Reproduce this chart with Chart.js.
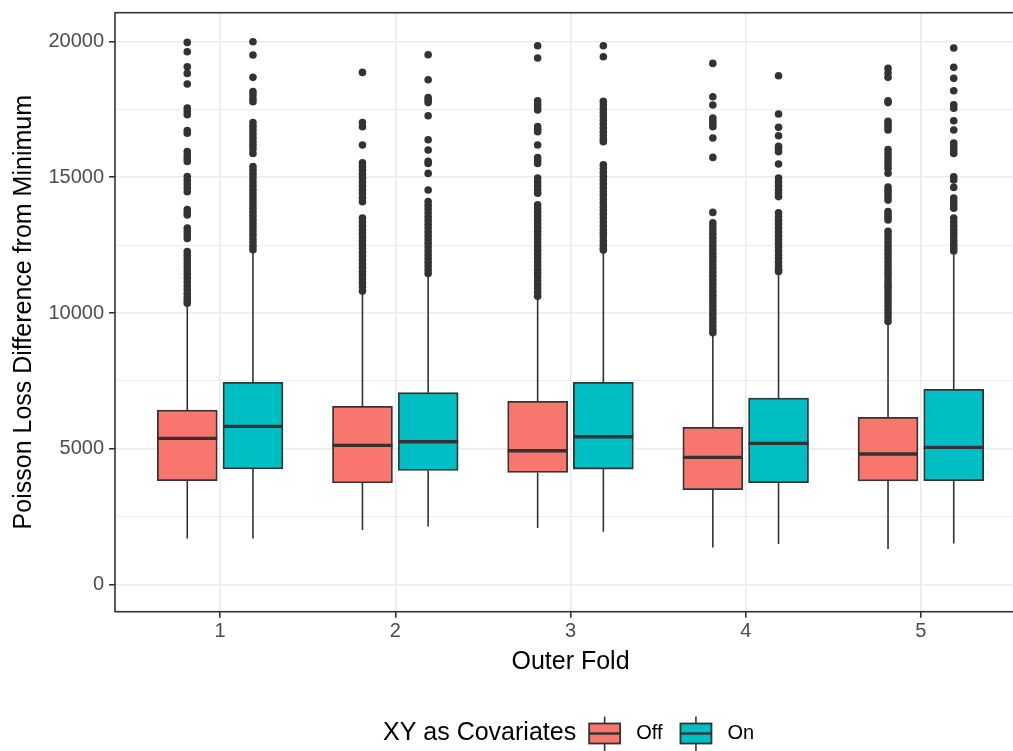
<!DOCTYPE html>
<html>
<head>
<meta charset="utf-8">
<script src="https://cdn.jsdelivr.net/npm/chart.js@4.4.0/dist/chart.umd.min.js"></script>
<style>
  html, body { margin: 0; padding: 0; overflow: hidden; background: #ffffff; }
  canvas { display: block; }
</style>
</head>
<body>
<canvas id="chart" width="1040" height="751"></canvas>
<script>
// Outer folds on the x axis
const folds = ['1', '2', '3', '4', '5'];
const groupNames = ['Off', 'On'];

// Y axis: grid values (major + minor) and labelled values
const yGridValues = [0, 2500, 5000, 7500, 10000, 12500, 15000, 17500, 20000];
const yLabelValues = [0, 5000, 10000, 15000, 20000];

// Box summaries, XY covariates Off
const offLowerWhisker = [1705, 2014, 2088, 1374, 1314];
const offQ1 = [3829, 3744, 4135, 3498, 3818];
const offMedian = [5387, 5129, 4934, 4687, 4812];
const offQ3 = [6432, 6565, 6749, 5792, 6160];
const offUpperWhisker = [10300, 10760, 10560, 9200, 9640];

// Box summaries, XY covariates On
const onLowerWhisker = [1705, 2147, 1951, 1498, 1521];
const onQ1 = [4260, 4208, 4257, 3756, 3829];
const onMedian = [5829, 5265, 5449, 5204, 5055];
const onQ3 = [7449, 7069, 7449, 6874, 7191];
const onUpperWhisker = [12220, 11340, 12220, 11470, 12200];

// Outliers beyond the upper whisker, XY covariates Off (one list per fold)
const offOutliers = [
  [19967, 19625, 19072, 18826, 18435, 17550, 17420, 17300, 16720, 16620, 15950, 15820, 15700, 15580,
   15030, 14890, 14750, 14610, 14470, 13810, 13700, 13610, 13130, 13000, 12880, 12750, 12270, 12130,
   11990, 11850, 11710, 11570, 11430, 11290, 11150, 11010, 10870, 10730, 10590, 10470, 10360],
  [18862, 17020, 16860, 16190, 15530, 15390, 15250, 15110, 14970, 14830, 14690, 14550, 14410, 14250,
   14100, 13500, 13360, 13220, 13080, 12940, 12800, 12660, 12520, 12380, 12240, 12100, 11960, 11820,
   11680, 11540, 11400, 11260, 11120, 10980, 10810],
  [19845, 19391, 17820, 17700, 17590, 17480, 16870, 16780, 16680, 16190, 15730, 15620, 15510, 14970,
   14830, 14690, 14550, 14410, 13990, 13850, 13710, 13570, 13430, 13290, 13150, 13010, 12870, 12730,
   12590, 12450, 12310, 12170, 12030, 11890, 11750, 11610, 11470, 11330, 11190, 11050, 10910, 10770, 10620],
  [19194, 17968, 17662, 17180, 17070, 16970, 16860, 16447, 15733, 13708, 13320, 13180, 13040, 12900,
   12760, 12620, 12480, 12340, 12200, 12060, 11920, 11780, 11640, 11500, 11360, 11220, 11080, 10940,
   10800, 10660, 10520, 10380, 10240, 10100, 9960, 9820, 9680, 9540, 9400, 9280],
  [19010, 18840, 18680, 17820, 17750, 17060, 16950, 16850, 16740, 16020, 15880, 15740, 15600, 15460,
   15320, 15150, 14640, 14520, 14400, 14280, 14160, 13740, 13630, 13530, 13430, 13010, 12870, 12730,
   12590, 12450, 12310, 12170, 12030, 11890, 11750, 11610, 11470, 11330, 11190, 11050, 10950, 10820,
   10680, 10540, 10400, 10260, 10120, 9980, 9840, 9690]
];

// Outliers beyond the upper whisker, XY covariates On (one list per fold)
const onOutliers = [
  [19990, 19500, 18680, 18160, 18040, 17900, 17780, 17020, 16880, 16740, 16600, 16460, 16320, 16180,
   16040, 15880, 15400, 15260, 15120, 14980, 14840, 14700, 14560, 14420, 14280, 14140, 14000, 13860,
   13720, 13580, 13440, 13300, 13160, 13020, 12880, 12740, 12600, 12460, 12330],
  [19514, 18594, 17940, 17840, 17750, 17268, 16384, 16005, 15590, 15510, 15144, 14533, 14110, 13970,
   13830, 13690, 13550, 13410, 13270, 13130, 12990, 12850, 12710, 12570, 12430, 12290, 12150, 12010,
   11870, 11730, 11590, 11460],
  [19845, 19440, 17800, 17660, 17520, 17380, 17240, 17100, 16960, 16820, 16680, 16540, 16400, 16310,
   15460, 15320, 15180, 15040, 14900, 14760, 14620, 14480, 14340, 14200, 14060, 13920, 13780, 13640,
   13500, 13360, 13220, 13080, 12940, 12800, 12660, 12520, 12400, 12320],
  [18741, 17330, 16839, 16532, 16140, 16040, 15940, 15489, 14970, 14830, 14690, 14550, 14420, 14290,
   13690, 13550, 13410, 13270, 13130, 12990, 12850, 12710, 12570, 12430, 12290, 12150, 12010, 11870,
   11730, 11600, 11530],
  [19760, 19047, 18643, 18189, 17670, 17540, 17084, 16741, 16260, 16130, 16000, 15880, 15020, 14900,
   14628, 14240, 14110, 13980, 13860, 13500, 13360, 13220, 13080, 12940, 12800, 12660, 12520, 12400, 12290]
];

const FONT = "'Liberation Sans', Arial, Helvetica, sans-serif";
const INK = '#333333';
const FILL_OFF = '#F8766D';
const FILL_ON = '#00BFC4';
const DODGE = 0.1875;          // half of the dodge width, in fold units
const legendTitle = 'XY as Covariates';

Chart.defaults.font.family = FONT;

const groups = [
  { name: groupNames[0], fill: FILL_OFF, shift: -DODGE, lo: offLowerWhisker, q1: offQ1, med: offMedian, q3: offQ3, hi: offUpperWhisker, out: offOutliers },
  { name: groupNames[1], fill: FILL_ON, shift: DODGE, lo: onLowerWhisker, q1: onQ1, med: onMedian, q3: onQ3, hi: onUpperWhisker, out: onOutliers }
];

const boxData = g => g.q1.map((v, i) => ({ x: i + 1 + g.shift, y: [v, g.q3[i]] }));
const outlierData = g => g.out.flatMap((vals, i) => vals.map(v => ({ x: i + 1 + g.shift, y: v })));

const boxDatasets = groups.map(g => ({
  type: 'bar',
  label: g.name,
  data: boxData(g),
  backgroundColor: g.fill,
  borderColor: INK,
  borderWidth: 1.8,
  borderSkipped: false,
  barThickness: 60,
  grouped: false,
  order: 2
}));

const outlierDatasets = groups.map(g => ({
  type: 'scatter',
  label: g.name + ' outliers',
  data: outlierData(g),
  pointRadius: 3.8,
  pointBackgroundColor: INK,
  pointBorderWidth: 0,
  pointHoverRadius: 3.8,
  order: 1
}));

// Whiskers behind the boxes; medians, panel border and legend on top
const boxplotExtras = {
  id: 'boxplotExtras',
  beforeDatasetsDraw(chart) {
    const { ctx, scales: { x, y } } = chart;
    ctx.save();
    ctx.strokeStyle = INK;
    ctx.lineWidth = 1.6;
    groups.forEach(g => {
      g.q1.forEach((q1, i) => {
        const px = x.getPixelForValue(i + 1 + g.shift);
        ctx.beginPath();
        ctx.moveTo(px, y.getPixelForValue(g.lo[i]));
        ctx.lineTo(px, y.getPixelForValue(q1));
        ctx.moveTo(px, y.getPixelForValue(g.q3[i]));
        ctx.lineTo(px, y.getPixelForValue(g.hi[i]));
        ctx.stroke();
      });
    });
    ctx.restore();
  },
  afterDatasetsDraw(chart) {
    const { ctx, scales: { y }, chartArea } = chart;
    ctx.save();
    ctx.strokeStyle = INK;
    ctx.lineWidth = 3.4;
    groups.forEach((g, gi) => {
      const meta = chart.getDatasetMeta(gi);
      meta.data.forEach((bar, i) => {
        const py = y.getPixelForValue(g.med[i]);
        ctx.beginPath();
        ctx.moveTo(bar.x - bar.width / 2, py);
        ctx.lineTo(bar.x + bar.width / 2, py);
        ctx.stroke();
      });
    });
    // panel border
    ctx.lineWidth = 1.6;
    ctx.strokeRect(chartArea.left, chartArea.top, chartArea.right - chartArea.left, chartArea.bottom - chartArea.top);
    ctx.restore();
  },
  afterDraw(chart) {
    const { ctx } = chart;
    const cy = 733.5;
    ctx.save();
    ctx.textBaseline = 'middle';
    ctx.textAlign = 'left';
    ctx.fillStyle = '#000000';
    ctx.font = '25px ' + FONT;
    let cx = 383;
    ctx.fillText(legendTitle, cx, cy);
    cx += ctx.measureText(legendTitle).width + 13;
    groups.forEach(g => {
      const keyW = 31, keyH = 20;
      const mid = cx + keyW / 2;
      ctx.strokeStyle = INK;
      ctx.lineWidth = 1.6;
      ctx.beginPath();
      ctx.moveTo(mid, cy - 17);
      ctx.lineTo(mid, cy + 18);
      ctx.stroke();
      ctx.fillStyle = g.fill;
      ctx.fillRect(cx, cy - keyH / 2, keyW, keyH);
      ctx.lineWidth = 1.8;
      ctx.strokeRect(cx, cy - keyH / 2, keyW, keyH);
      ctx.lineWidth = 2.4;
      ctx.beginPath();
      ctx.moveTo(cx, cy);
      ctx.lineTo(cx + keyW, cy);
      ctx.stroke();
      ctx.fillStyle = '#000000';
      ctx.font = '20px ' + FONT;
      ctx.fillText(g.name, cx + keyW + 16, cy);
      cx += keyW + 16 + ctx.measureText(g.name).width + 18;
    });
    ctx.restore();
  }
};

new Chart(document.getElementById('chart'), {
  type: 'bar',
  data: { datasets: [...boxDatasets, ...outlierDatasets] },
  options: {
    responsive: false,
    animation: false,
    devicePixelRatio: 1,
    layout: { padding: { left: 0, right: 14, top: 12.7, bottom: 60 } },
    plugins: { legend: { display: false }, tooltip: { enabled: false } },
    scales: {
      x: {
        type: 'linear',
        min: 0.4,
        max: 5.6,
        offset: false,
        afterBuildTicks: s => { s.ticks = folds.map((f, i) => ({ value: i + 1 })); },
        afterFit: s => { s.height = 79.3; s.paddingLeft = 0; s.paddingRight = 0; },
        ticks: {
          callback: (v, i) => folds[i],
          color: '#4D4D4D',
          font: { size: 20 },
          padding: 2,
          maxRotation: 0,
          autoSkip: false
        },
        grid: { color: '#EBEBEB', lineWidth: 1.6, tickLength: 6, tickColor: INK, tickWidth: 1.6, offset: false },
        border: { display: false },
        title: { display: true, text: 'Outer Fold', color: '#000000', font: { size: 25 }, padding: { top: 0, bottom: 14 } }
      },
      y: {
        min: -994,
        max: 21060,
        afterBuildTicks: s => { s.ticks = yGridValues.map(v => ({ value: v })); },
        afterFit: s => { s.width = 115; s.paddingTop = 0; s.paddingBottom = 0; },
        ticks: {
          callback: v => (yLabelValues.includes(v) ? String(v) : ''),
          color: '#4D4D4D',
          font: { size: 20 },
          padding: 5,
          autoSkip: false
        },
        grid: {
          color: '#EBEBEB',
          lineWidth: c => (c.tick && yLabelValues.includes(c.tick.value) ? 1.6 : 0.9),
          tickColor: c => (c.tick && yLabelValues.includes(c.tick.value) ? INK : 'rgba(0,0,0,0)'),
          tickLength: 6,
          tickWidth: 1.6
        },
        border: { display: false },
        title: { display: true, text: 'Poisson Loss Difference from Minimum', color: '#000000', font: { size: 25 }, padding: { top: 9, bottom: 0 } }
      }
    }
  },
  plugins: [boxplotExtras]
});
</script>
</body>
</html>
